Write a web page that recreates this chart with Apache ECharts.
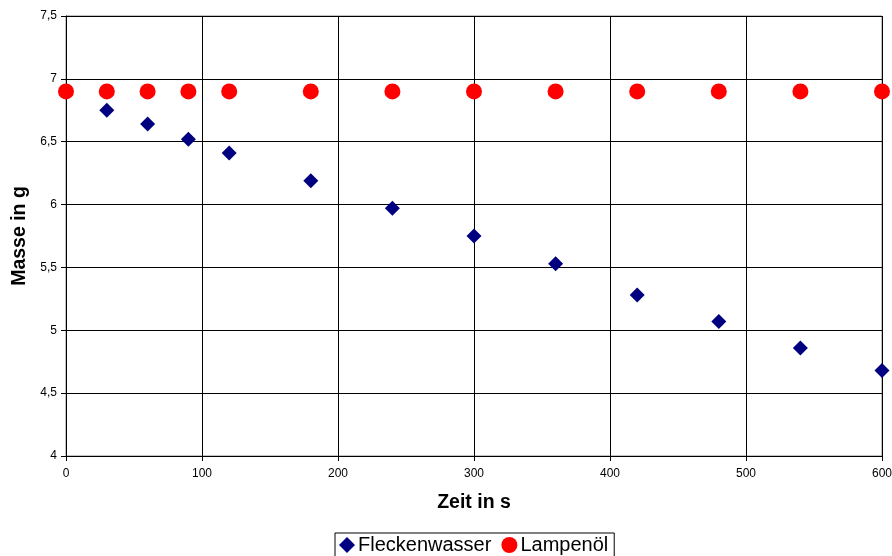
<!DOCTYPE html>
<html>
<head>
<meta charset="utf-8">
<script src="https://cdn.jsdelivr.net/npm/echarts@6/dist/echarts.min.js"></script>
<style>
  html, body { margin: 0; padding: 0; background: #fff; }
  #chart { width: 892px; height: 556px; }
</style>
</head>
<body>
<div id="chart"></div>
<script>
// Zeit in s
const zeitFlecken = [30, 60, 90, 120, 180, 240, 300, 360, 420, 480, 540, 600];
const masseFlecken = [6.75, 6.64, 6.52, 6.41, 6.19, 5.97, 5.75, 5.53, 5.28, 5.07, 4.86, 4.68];
const zeitLampe = [0, 30, 60, 90, 120, 180, 240, 300, 360, 420, 480, 540, 600];
const masseLampe = [6.9, 6.9, 6.9, 6.9, 6.9, 6.9, 6.9, 6.9, 6.9, 6.9, 6.9, 6.9, 6.9];

const pairs = (xs, ys) => xs.map((x, i) => [x, ys[i]]);
const font = "Arial, 'Liberation Sans', sans-serif";

const chart = echarts.init(document.getElementById("chart"));
chart.setOption({
  animation: false,
  backgroundColor: "#fff",
  grid: {
    left: 66, right: 10, top: 16, bottom: 100,
    containLabel: false, outerBoundsMode: "none",
    show: true, borderColor: "#888", borderWidth: 1
  },
  legend: {
    bottom: -1,
    left: 335,
    itemGap: 10,
    itemWidth: 16,
    itemHeight: 16,
    padding: [2, 6, 2, 4],
    borderColor: "#000",
    borderWidth: 1,
    borderRadius: 0,
    textStyle: { fontFamily: font, fontSize: 20, color: "#000", padding: [0, 0, 0, -2] },
    data: [
      { name: "Fleckenwasser", icon: "diamond" },
      { name: "Lampenöl", icon: "circle" }
    ]
  },
  xAxis: {
    type: "value",
    min: 0,
    max: 600,
    interval: 100,
    name: "Zeit in s",
    nameLocation: "middle",
    nameGap: 37,
    nameTextStyle: { fontFamily: font, fontSize: 19.5, fontWeight: "bold", color: "#000" },
    axisLine: { lineStyle: { color: "#000" } },
    axisTick: { show: true, length: 5, lineStyle: { color: "#000" } },
    axisLabel: { fontFamily: font, fontSize: 12, color: "#000", margin: 12 },
    splitLine: { show: true, lineStyle: { color: "#000", width: 1 } }
  },
  yAxis: {
    type: "value",
    min: 4,
    max: 7.5,
    interval: 0.5,
    name: "Masse in g",
    nameLocation: "middle",
    nameGap: 34,
    nameTextStyle: { fontFamily: font, fontSize: 19.5, fontWeight: "bold", color: "#000" },
    axisLine: { show: true, lineStyle: { color: "#000" } },
    axisTick: { show: true, length: 5, lineStyle: { color: "#000" } },
    axisLabel: {
      fontFamily: font, fontSize: 12, color: "#000", margin: 9,
      formatter: v => String(v).replace(".", ",")
    },
    splitLine: { show: true, lineStyle: { color: "#000", width: 1 } }
  },
  series: [
    {
      name: "Fleckenwasser",
      type: "scatter",
      symbol: "diamond",
      symbolSize: 15,
      itemStyle: { color: "#000080", opacity: 1 },
      data: pairs(zeitFlecken, masseFlecken),
      clip: false,
      z: 2
    },
    {
      name: "Lampenöl",
      type: "scatter",
      symbol: "circle",
      symbolSize: 16,
      itemStyle: { color: "#ff0000", opacity: 1 },
      data: pairs(zeitLampe, masseLampe),
      clip: false,
      z: 3
    }
  ]
});
</script>
</body>
</html>
